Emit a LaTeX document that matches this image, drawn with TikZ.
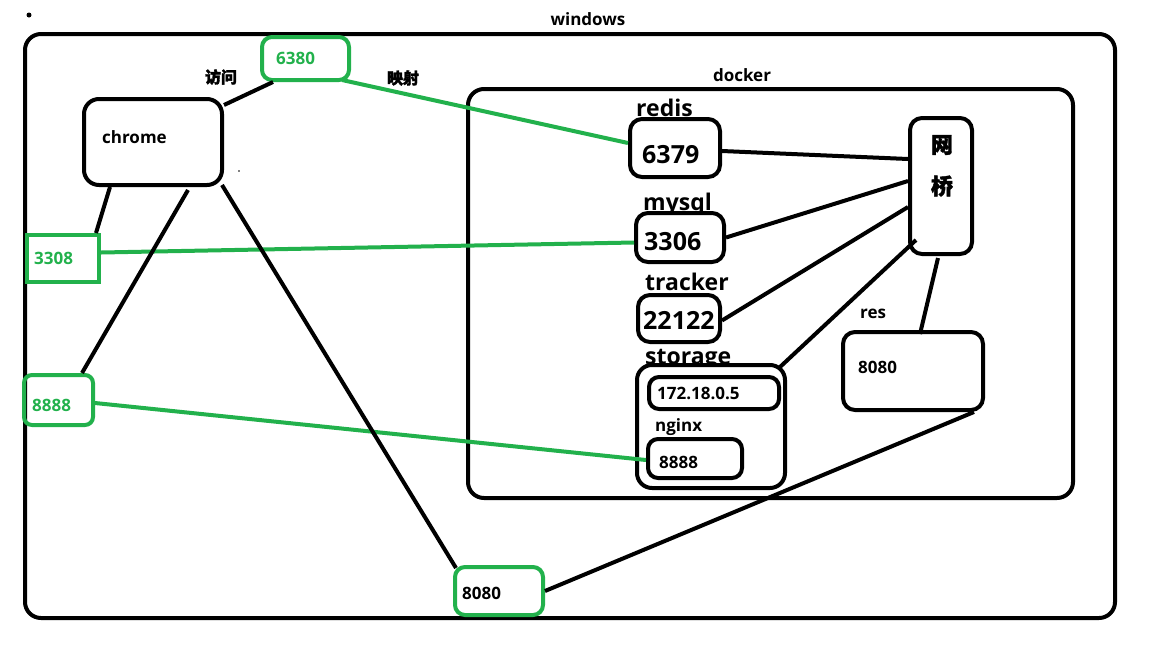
\documentclass[tikz,border=0pt]{standalone}
\usepackage{fontspec}
\setmainfont{Open Sans}[BoldFont={Open Sans Bold}]
\newfontfamily\cjk{Noto Sans CJK SC}[FakeBold=2]
\usetikzlibrary{calc}
\definecolor{pgreen}{HTML}{22B14C}
\tikzset{
  box/.style={draw=black,line width=4pt,rounded corners=#1,inner sep=0pt},
  box/.default=12pt,
  gbox/.style={draw=pgreen,line width=4pt,rounded corners=#1,inner sep=0pt},
  gbox/.default=10pt,
  bl/.style={draw=black,line width=4pt},
  gl/.style={draw=pgreen,line width=4pt},
  txt/.style={inner sep=0pt,anchor=west,font=\bfseries\fontsize{17}{18}\selectfont},
  big/.style={inner sep=0pt,anchor=base west,font=\bfseries\fontsize{23}{24}\selectfont},
  bigd/.style={inner sep=0pt,anchor=base west,font=\bfseries\fontsize{25}{26}\selectfont},
  cn/.style={inner sep=0pt,font=\cjk\bfseries\fontsize{#1}{#1}\selectfont},
}
\begin{document}
\begin{tikzpicture}[x=1pt,y=-1pt]
\useasboundingbox (0,0) rectangle (1172,646);
% dots
\fill (29,15) circle (2.5);
\fill (239,171) circle (0.8);
% outer boxes
\node[box=16pt,minimum width=1090pt,minimum height=584pt] (win) at (570,326) {};
\node[inner sep=0pt,font=\bfseries\fontsize{17}{18}\selectfont] (winl) at (588,19) {windows};
\node[box=16pt,minimum width=605pt,minimum height=409pt] (dock) at (770.5,293.5) {};
\node[inner sep=0pt,font=\bfseries\fontsize{17}{18}\selectfont] (dockl) at (742,75) {docker};
% left side
\node[gbox=10pt,minimum width=87pt,minimum height=43pt] (p6380) at (305.5,58.5) {};
\node[txt,text=pgreen] (t6380) at (276,58) {6380};
\node[cn=16] (fw) at (221,77) {访问};
\node[cn=16] (ys) at (403,78) {映射};
\node[box=15pt,minimum width=138pt,minimum height=86pt] (chrome) at (153,142) {};
\node[txt] (tchrome) at (102,137) {chrome};
\node[gbox=0pt,minimum width=72pt,minimum height=47pt] (p3308) at (63,258.5) {};
\node[txt,text=pgreen] (t3308) at (34,258) {3308};
\node[gbox=8pt,minimum width=69pt,minimum height=50pt] (p8888) at (58.5,400) {};
\node[txt,text=pgreen] (t8888) at (32,405) {8888};
\node[gbox=10pt,minimum width=88pt,minimum height=48pt] (p8080) at (499,591) {};
\node[txt] (t8080) at (462,593) {8080};
% docker contents
\node[big] (lredis) at (636,116) {redis};
\node[box=12pt,minimum width=90pt,minimum height=58pt] (r6379) at (675,148) {};
\node[bigd] (t6379) at (642,163) {6379};
\node[big] (lmysql) at (643,210) {mysql};
\node[box=12pt,minimum width=88pt,minimum height=49pt,fill=white] (m3306) at (680,237.5) {};
\node[bigd] (t3306) at (644,250) {3306};
\node[big] (ltracker) at (645,290) {tracker};
\node[box=12pt,minimum width=82pt,minimum height=47pt] (t22122) at (679,318.5) {};
\node[bigd] (tt22122) at (643,329) {22122};
\node[big] (lstorage) at (645,364) {storage};
\node[box=15pt,minimum width=148pt,minimum height=123pt,fill=white] (storage) at (711,426.5) {};
\node[box=10pt,minimum width=130pt,minimum height=32pt] (ip) at (714,393) {};
\node[txt] (tip) at (657,393) {172.18.0.5};
\node[txt] (lnginx) at (655,427) {nginx};
\node[box=10pt,minimum width=94pt,minimum height=39pt] (n8888) at (695,458.5) {};
\node[txt] (tn8888) at (659,462) {8888};
\node[box=12pt,minimum width=62pt,minimum height=136pt] (bridge) at (941,186) {};
\node[cn=22] (w1) at (942,145) {网};
\node[cn=22] (w2) at (942,186) {桥};
\node[txt] (lres) at (860,314) {res};
\node[box=12pt,minimum width=140pt,minimum height=78pt] (res) at (913,371) {};
\node[txt] (tres) at (858,367) {8080};
% connectors
\draw[bl] ($(chrome.north east)+(0,8)$) -- ($(p6380.south west)+(13,0)$);
\draw[gl] ($(p6380.south east)+(-9,-2)$) -- ($(r6379.west)+(0,-5)$);
\draw[bl] ($(r6379.east)+(0,3)$) -- ($(bridge.west)+(0,-27)$);
\draw[bl] ($(m3306.east)+(0,0)$) -- ($(bridge.west)+(0,-5)$);
\draw[bl] ($(t22122.east)+(0,2)$) -- ($(bridge.west)+(0,21)$);
\draw[bl] ($(storage.north east)+(-7,4)$) -- ($(bridge.south west)+(8,-16)$);
\draw[bl] ($(bridge.south)+(-3,2)$) -- ($(res.north)+(7,4)$);
\draw[bl] ($(res.south east)+(-11,0)$) -- (p8080.east);
\draw[gl] ($(p3308.east)+(0,-6)$) -- ($(m3306.west)+(0,5)$);
\draw[gl] ($(p8888.east)+(0,3)$) -- ($(n8888.west)+(0,1.5)$);
\draw[bl] ($(chrome.south west)+(28,0)$) -- ($(p3308.north east)+(-5,0)$);
\draw[bl] ($(chrome.south west)+(106,3)$) -- ($(p8888.north east)+(-13,0)$);
\draw[bl] ($(chrome.south east)+(-2,-2)$) -- ($(p8080.north west)+(3,3)$);
\end{tikzpicture}
\end{document}
